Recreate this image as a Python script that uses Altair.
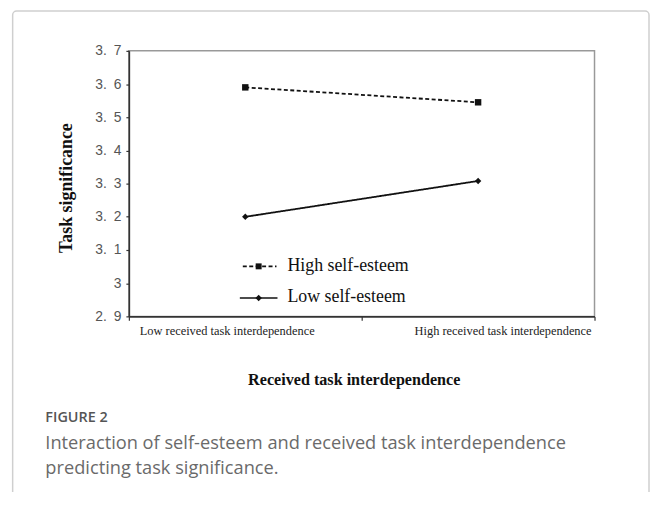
import altair as alt
import pandas as pd

# ---- data ----
levels = ["Low received task interdependence", "High received task interdependence"]
series = ["High self-esteem", "Low self-esteem"]
high_self_esteem = [3.59, 3.545]
low_self_esteem = [3.20, 3.308]
y_ticks = [2.9, 3.0, 3.1, 3.2, 3.3, 3.4, 3.5, 3.6, 3.7]
fig_label = "FIGURE 2"
caption_lines = [
    "Interaction of self-esteem and received task interdependence",
    "predicting task significance.",
]

rows = []
for s, vals in zip(series, [high_self_esteem, low_self_esteem]):
    for lv, v in zip(levels, vals):
        rows.append({"level": lv, "series": s, "value": v})
df = pd.DataFrame(rows)

one = alt.Data(values=[{"k": 1}])
INK = "#111111"
SERIF = "Liberation Serif"

x_scale = alt.Scale(type="band", domain=levels, paddingInner=0, paddingOuter=0)
y_scale = alt.Scale(domain=[2.9, 3.7], nice=False, zero=False)

x_axis = alt.Axis(
    title="Received task interdependence",
    titleFont=SERIF, titleFontWeight="bold", titleFontSize=16.3, titleColor=INK,
    titleX=227, titleY=64, titleBaseline="middle", titleAlign="center",
    labelFont=SERIF, labelFontSize=12.5, labelColor="#222", labelAngle=0,
    labelBaseline="top", labelPadding=4, labelOverlap=False,
    labelAlign={"condition": {"test": "datum.value == '" + levels[0] + "'", "value": "left"}, "value": "right"},
    labelOffset={"condition": {"test": "datum.value == '" + levels[0] + "'", "value": -107}, "value": 114},
    tickBand="extent", tickSize=4, tickColor="#333", tickWidth=1.2,
    domainColor="#333", domainWidth=1.6, grid=False,
)
y_axis = alt.Axis(
    values=y_ticks,
    labelExpr="abs(datum.value - 3) < 0.001 ? '3' : replace(format(datum.value, '.1f'), '.', '.\u2002')",
    labelFont="Liberation Sans", labelFontSize=14, labelColor="#555",
    labelPadding=5, labelOverlap=False, labelBound=False, labelFlush=False,
    tickSize=3, tickColor="#333", tickWidth=1.2,
    domainColor="#333", domainWidth=1.6, grid=False,
    title="Task significance",
    titleFont=SERIF, titleFontWeight="bold", titleFontSize=18, titleColor=INK,
    titleX=-63, titleY=138, titleAlign="center", titleBaseline="middle", titleAngle=270,
)
x_enc = alt.X("level:N", sort=levels, scale=x_scale, axis=x_axis)
y_enc = alt.Y("value:Q", scale=y_scale, axis=y_axis)

lines = alt.Chart(df).mark_line(color=INK, strokeWidth=1.8).encode(
    x=x_enc, y=y_enc,
    strokeDash=alt.StrokeDash("series:N", scale=alt.Scale(domain=series, range=[[4, 2.5], [1, 0]]), legend=None),
    detail="series:N",
)
points = alt.Chart(df).mark_point(filled=True, color=INK, opacity=1, size=42).encode(
    x=x_enc, y=y_enc,
    shape=alt.Shape("series:N", scale=alt.Scale(domain=series, range=["square", "diamond"]), legend=None),
)

# ---- card frame ----
card = alt.Chart(one).mark_rect(fill=None, stroke="#cfcfcf", strokeWidth=1.5, cornerRadius=4).encode(
    x=alt.value(-117.3), x2=alt.value(525), y=alt.value(-40.2), y2=alt.value(470)
)

# ---- legend drawn inside the plot ----
leg_hi_line = alt.Chart(one).mark_rule(color=INK, strokeWidth=1.6, strokeDash=[4, 2.5]).encode(
    x=alt.value(115), x2=alt.value(149), y=alt.value(217.5)
)
leg_lo_line = alt.Chart(one).mark_rule(color=INK, strokeWidth=1.6).encode(
    x=alt.value(112), x2=alt.value(150), y=alt.value(249.5)
)
leg_hi_pt = alt.Chart(one).mark_point(shape="square", filled=True, color=INK, opacity=1, size=36).encode(
    x=alt.value(131), y=alt.value(217.5)
)
leg_lo_pt = alt.Chart(one).mark_point(shape="diamond", filled=True, color=INK, opacity=1, size=42).encode(
    x=alt.value(131), y=alt.value(249.5)
)
leg_hi_txt = alt.Chart(one).mark_text(text=series[0], font=SERIF, fontSize=18, color=INK, align="left", baseline="middle").encode(
    x=alt.value(160), y=alt.value(217)
)
leg_lo_txt = alt.Chart(one).mark_text(text=series[1], font=SERIF, fontSize=18, color=INK, align="left", baseline="middle").encode(
    x=alt.value(160), y=alt.value(248)
)

# ---- caption ----
fig_txt = alt.Chart(one).mark_text(text=fig_label, font="Open Sans", fontSize=14.5, fontWeight=600, color="#555", align="left", baseline="middle").encode(
    x=alt.value(-84.3), y=alt.value(370.5)
)
cap1 = alt.Chart(one).mark_text(text=caption_lines[0], font="Open Sans", fontSize=18.4, color="#6a6a6a", align="left", baseline="middle").encode(
    x=alt.value(-84.3), y=alt.value(396)
)
cap2 = alt.Chart(one).mark_text(text=caption_lines[1], font="Open Sans", fontSize=18.4, color="#6a6a6a", align="left", baseline="middle").encode(
    x=alt.value(-84.3), y=alt.value(421)
)

chart = alt.layer(
    card, lines, points,
    leg_hi_line, leg_lo_line, leg_hi_pt, leg_lo_pt, leg_hi_txt, leg_lo_txt,
    fig_txt, cap1, cap2,
).properties(
    width=470, height=268,
    padding={"left": 122, "top": 41, "right": 56, "bottom": 175},
    autosize=alt.AutoSizeParams(type="none"),
    background="white",
).configure_view(stroke="#999", strokeWidth=1.5).configure_axis(labelOverlap=False)

chart.save("out.html", embed_options={"renderer": "svg", "actions": False})
